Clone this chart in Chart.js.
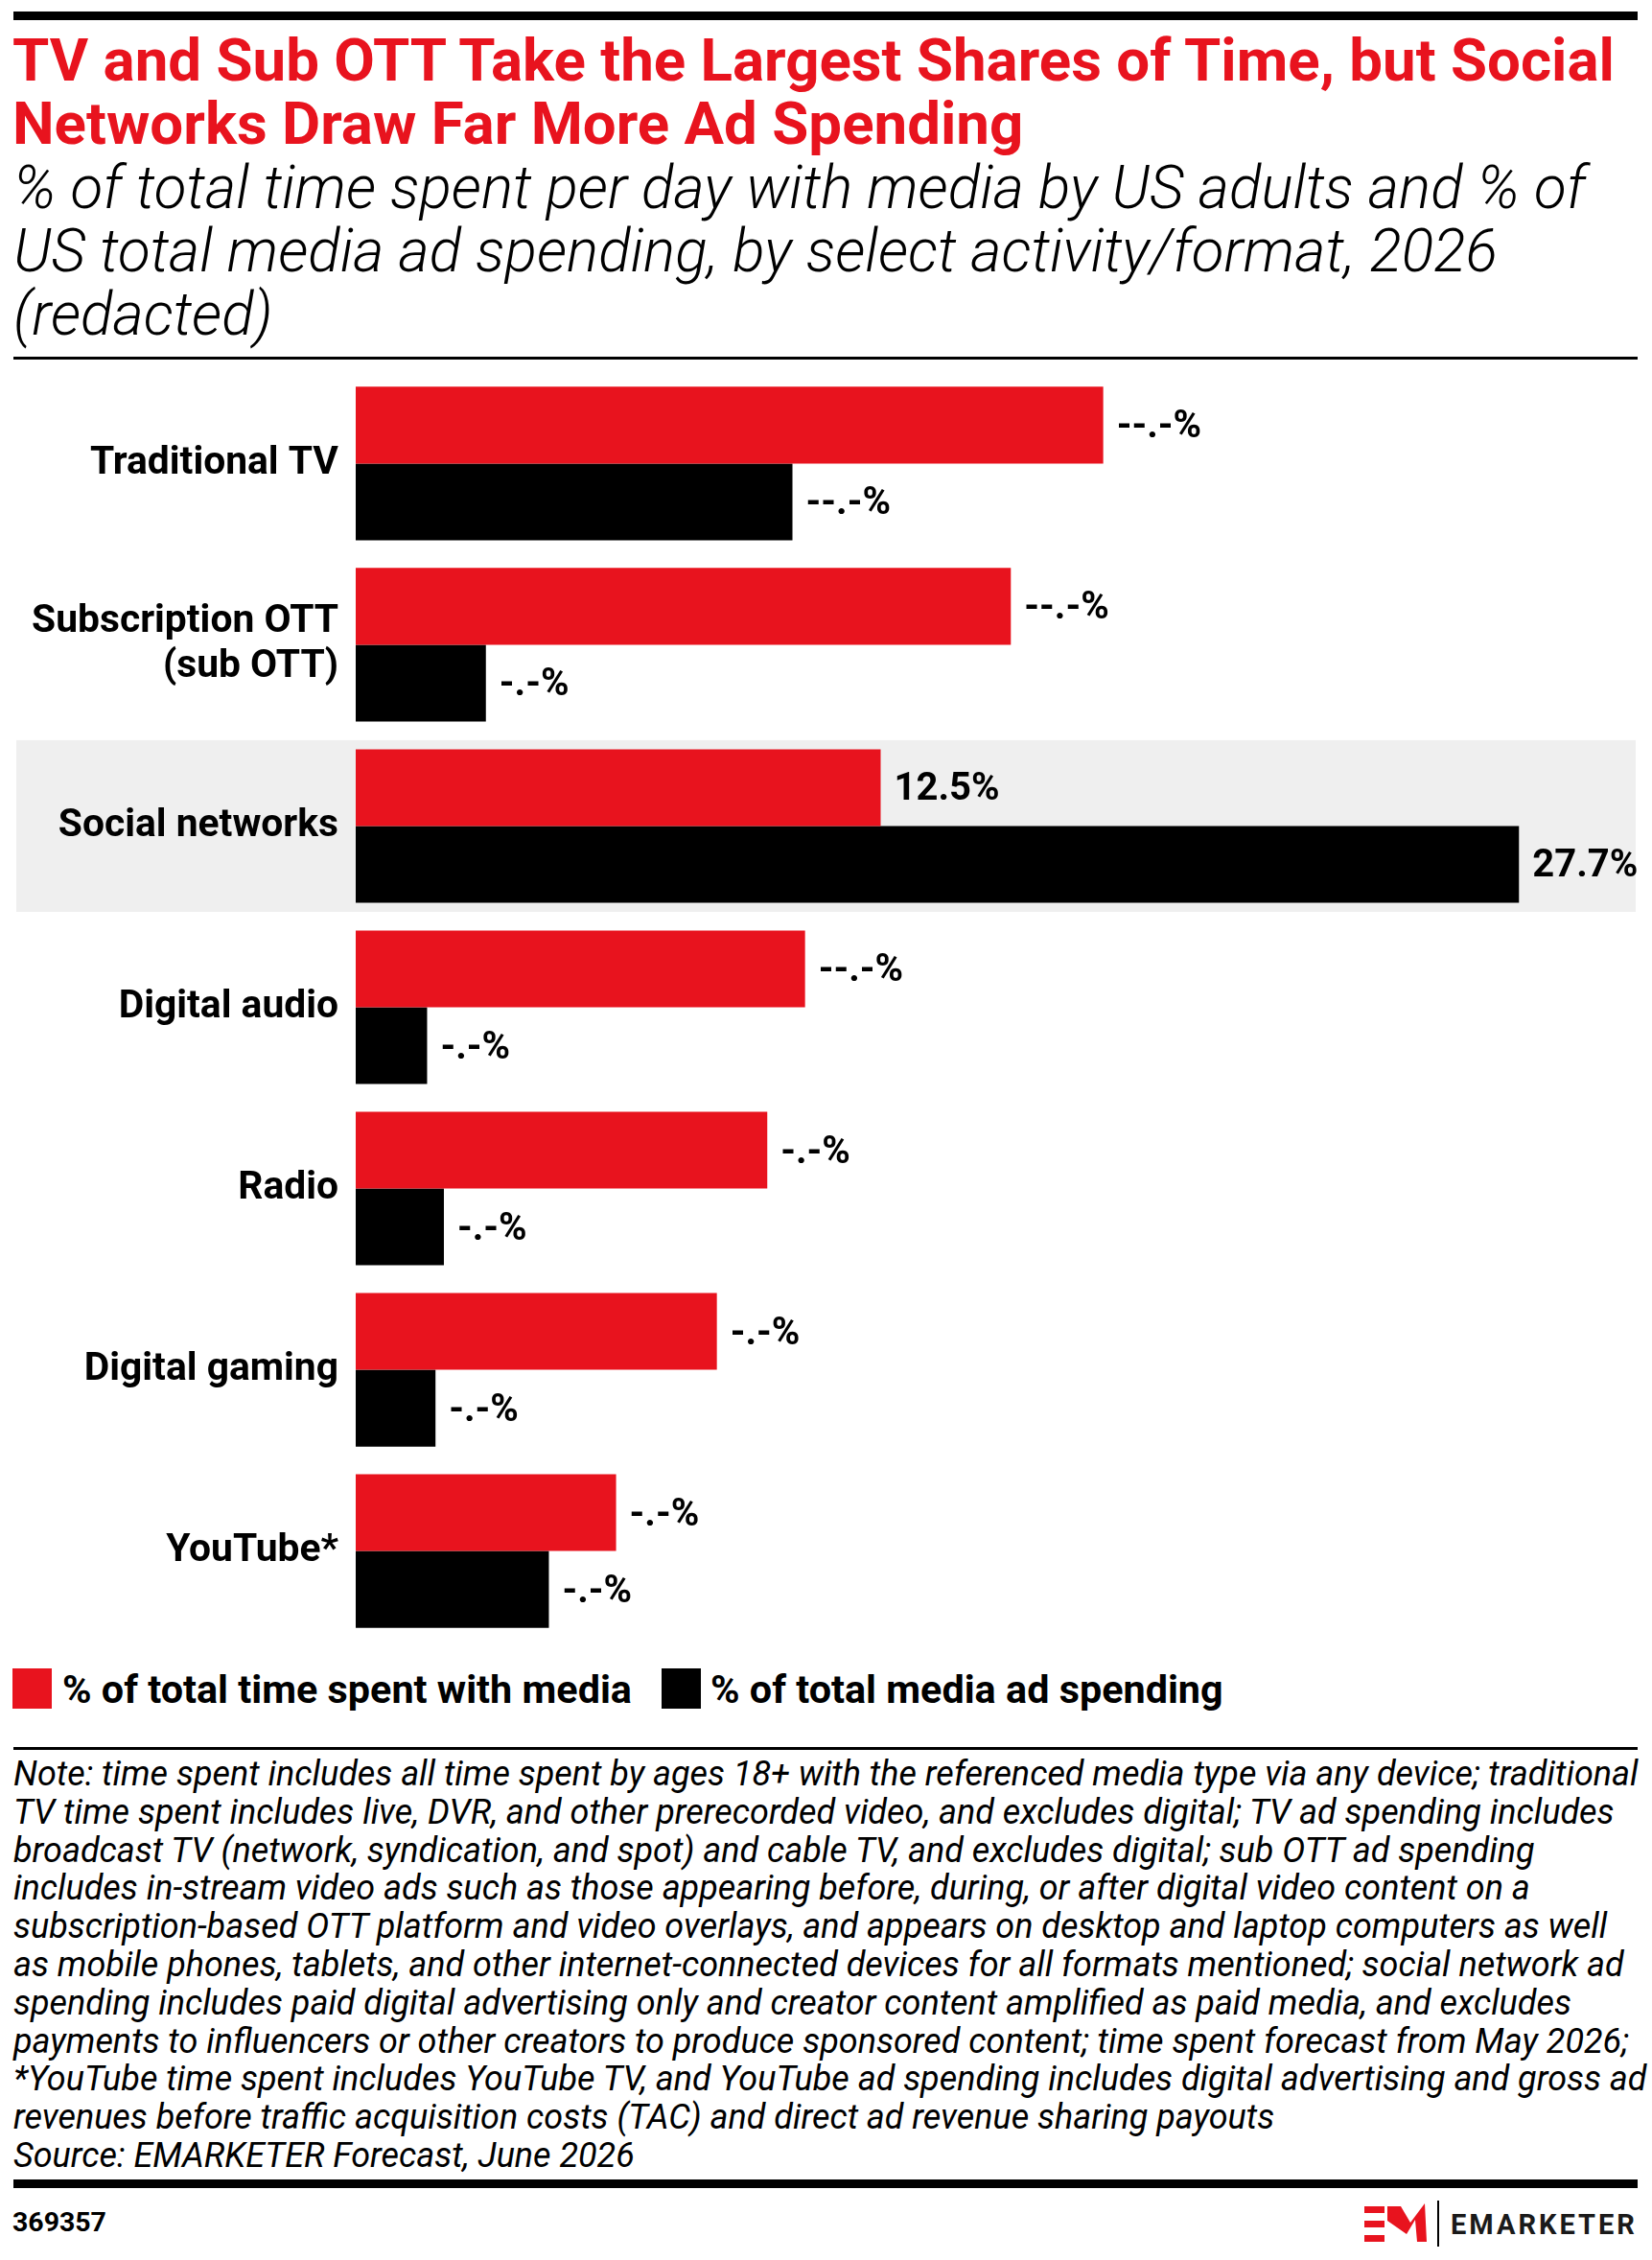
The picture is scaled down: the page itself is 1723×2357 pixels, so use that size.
<!DOCTYPE html>
<html>
<head>
<meta charset="utf-8">
<script src="https://cdn.jsdelivr.net/npm/chart.js@4.4.1/dist/chart.umd.min.js"></script>
<style>
html, body { margin: 0; padding: 0; background: #fff; }
#page { position: relative; width: 1723px; height: 2357px; overflow: hidden; background: #fff; }
#deco { position: absolute; left: 0; top: 0; }
#chartBox { position: absolute; left: 0; top: 370px; width: 1723px; height: 1360px; }
</style>
</head>
<body>
<div id="page">
  <svg id="deco" width="1723" height="2357" xmlns="http://www.w3.org/2000/svg"></svg>
  <div id="chartBox"><canvas id="myChart" width="1723" height="1360"></canvas></div>
</div>
<script>
// chart data
var categories = ['Traditional TV', ['Subscription OTT', '(sub OTT)'], 'Social networks', 'Digital audio', 'Radio', 'Digital gaming', 'YouTube*'];
var timeSpent = [17.8, 15.6, 12.5, 10.7, 9.8, 8.6, 6.2];
var adSpending = [10.4, 3.1, 27.7, 1.7, 2.1, 1.9, 4.6];
var timeLabels = ['--.-%', '--.-%', '12.5%', '--.-%', '-.-%', '-.-%', '-.-%'];
var adLabels = ['--.-%', '-.-%', '27.7%', '-.-%', '-.-%', '-.-%', '-.-%'];
var seriesNames = ['% of total time spent with media', '% of total media ad spending'];
var highlightCategory = 2; // Social networks

var titleLines = ['TV and Sub OTT Take the Largest Shares of Time, but Social', 'Networks Draw Far More Ad Spending'];
var subtitleLines = ['% of total time spent per day with media by US adults and % of', 'US total media ad spending, by select activity/format, 2026', '(redacted)'];
var noteLines = [
    'Note: time spent includes all time spent by ages 18+ with the referenced media type via any device; traditional',
    'TV time spent includes live, DVR, and other prerecorded video, and excludes digital; TV ad spending includes',
    'broadcast TV (network, syndication, and spot) and cable TV, and excludes digital; sub OTT ad spending',
    'includes in-stream video ads such as those appearing before, during, or after digital video content on a',
    'subscription-based OTT platform and video overlays, and appears on desktop and laptop computers as well',
    'as mobile phones, tablets, and other internet-connected devices for all formats mentioned; social network ad',
    'spending includes paid digital advertising only and creator content amplified as paid media, and excludes',
    'payments to influencers or other creators to produce sponsored content; time spent forecast from May 2026;',
    '*YouTube time spent includes YouTube TV, and YouTube ad spending includes digital advertising and gross ad',
    'revenues before traffic acquisition costs (TAC) and direct ad revenue sharing payouts',
    'Source: EMARKETER Forecast, June 2026'
];
var chartId = '369357';

var FONT = 'Roboto';
var RED = '#E8131E';
var BLACK = '#000000';

// where the plot area should sit on the page
var AREA_TOP = 388.5;
var AREA_HEIGHT = 1323;

var svgNS = 'http://www.w3.org/2000/svg';
var deco = document.getElementById('deco');

function addRect(x, y, w, h, fill) {
    var r = document.createElementNS(svgNS, 'rect');
    r.setAttribute('x', x); r.setAttribute('y', y);
    r.setAttribute('width', w); r.setAttribute('height', h);
    r.setAttribute('fill', fill);
    deco.appendChild(r);
    return r;
}

function addText(str, x, y, size, weight, style, fill) {
    var t = document.createElementNS(svgNS, 'text');
    t.setAttribute('x', x); t.setAttribute('y', y);
    t.setAttribute('font-family', FONT);
    t.setAttribute('font-size', size);
    t.setAttribute('font-weight', weight);
    t.setAttribute('font-style', style);
    t.setAttribute('fill', fill);
    t.textContent = str;
    deco.appendChild(t);
    return t;
}

// scale a group of lines so the widest one gets the target width
function fitLines(els, target) {
    var widest = 0;
    els.forEach(function (el) { widest = Math.max(widest, el.getComputedTextLength()); });
    var k = target / widest;
    els.forEach(function (el) {
        el.setAttribute('font-size', parseFloat(el.getAttribute('font-size')) * k);
    });
}

function measure(text, weight, size) {
    var c = document.createElement('canvas').getContext('2d');
    c.font = weight + ' ' + size + 'px ' + FONT;
    return c.measureText(text).width;
}

function drawDecor() {
    addRect(14, 12, 1694, 9, BLACK);

    var t = titleLines.map(function (s, i) { return addText(s, 13, 84 + i * 66, 56, 700, 'normal', RED); });
    fitLines(t, 1671);

    var st = subtitleLines.map(function (s, i) { return addText(s, 14, 217 + i * 66, 54, 300, 'italic', BLACK); });
    fitLines(st, 1640);

    addRect(14, 372, 1694, 3, BLACK);

    // legend
    var boxX = [13, 690];
    var textX = [65, 741];
    var colors = [RED, BLACK];
    var lt = seriesNames.map(function (s, i) {
        addRect(boxX[i], 1740, 41, 42, colors[i]);
        return addText(s, textX[i], 1776, 40, 700, 'normal', BLACK);
    });
    fitLines([lt[0]], 594);
    lt[1].setAttribute('font-size', lt[0].getAttribute('font-size'));

    addRect(14, 1822, 1694, 3, BLACK);

    var nt = noteLines.map(function (s, i) { return addText(s, 14, 1862 + i * 39.8, 34, 400, 'italic', BLACK); });
    fitLines([nt[0]], 1695);
    nt.forEach(function (el) { el.setAttribute('font-size', nt[0].getAttribute('font-size')); });

    addRect(14, 2273, 1694, 9, BLACK);

    var idt = addText(chartId, 13, 2327, 28, 700, 'normal', BLACK);
    fitLines([idt], 98);

    // logo
    addRect(1423, 2301, 21, 7, RED);
    addRect(1423, 2316, 21, 7, RED);
    addRect(1423, 2331, 21, 7, RED);
    var m = document.createElementNS(svgNS, 'polygon');
    m.setAttribute('points', '1447,2301 1461,2301 1471,2318 1486,2298 1488,2338 1478,2338 1476,2315 1467,2330 1447,2316');
    m.setAttribute('fill', RED);
    deco.appendChild(m);
    addRect(1499, 2295, 2, 48, BLACK);
    var lg = addText('EMARKETER', 1513, 2330, 30, 700, 'normal', '#1a1a1a');
    lg.setAttribute('letter-spacing', '3');
    fitLines([lg], 194);
}

function makeConfig(tickSize, valueSize) {
    // grey band behind the highlighted category
    var bandPlugin = {
        id: 'band',
        beforeDraw: function (chart) {
            var y = chart.scales.y;
            var step = y.getPixelForValue(1) - y.getPixelForValue(0);
            var h = step * 179 / 189;
            var ctx = chart.ctx;
            ctx.save();
            ctx.fillStyle = '#EFEFEF';
            ctx.fillRect(17, y.getPixelForValue(highlightCategory) - h / 2, 1689, h);
            ctx.restore();
        }
    };

    // value labels at the end of each bar
    var valuePlugin = {
        id: 'values',
        afterDatasetsDraw: function (chart) {
            var ctx = chart.ctx;
            var texts = [timeLabels, adLabels];
            ctx.save();
            ctx.font = 'bold ' + valueSize + 'px ' + FONT;
            ctx.fillStyle = BLACK;
            ctx.textBaseline = 'middle';
            ctx.textAlign = 'left';
            chart.data.datasets.forEach(function (ds, di) {
                chart.getDatasetMeta(di).data.forEach(function (bar, i) {
                    ctx.fillText(texts[di][i], bar.x + 14, bar.y + 3);
                });
            });
            ctx.restore();
        }
    };

    return {
        type: 'bar',
        data: {
            labels: categories,
            datasets: [{
                label: seriesNames[0],
                data: timeSpent,
                backgroundColor: RED,
                categoryPercentage: 0.847,
                barPercentage: 1
            }, {
                label: seriesNames[1],
                data: adSpending,
                backgroundColor: BLACK,
                categoryPercentage: 0.847,
                barPercentage: 1
            }]
        },
        options: {
            indexAxis: 'y',
            responsive: false,
            maintainAspectRatio: false,
            devicePixelRatio: 1,
            animation: false,
            layout: { padding: { top: 0, bottom: 0, left: 0, right: 38 } },
            plugins: { legend: { display: false }, tooltip: { enabled: false } },
            scales: {
                x: { display: false, min: 0, max: 30 },
                y: {
                    grid: { display: false, drawTicks: false },
                    border: { display: false },
                    ticks: {
                        autoSkip: false,
                        color: BLACK,
                        padding: 18,
                        font: { size: tickSize, weight: 'bold', lineHeight: 1.17 }
                    },
                    afterFit: function (scale) { scale.width = 371; }
                }
            }
        },
        plugins: [bandPlugin, valuePlugin]
    };
}

function showChart() {
    drawDecor();

    var tickSize = 40 * 320 / measure('Subscription OTT', 'bold', 40);
    var valueSize = 40 * 110 / measure('12.5%', 'bold', 40);

    Chart.defaults.font.family = FONT;
    Chart.defaults.color = BLACK;

    var canvas = document.getElementById('myChart');
    var box = document.getElementById('chartBox');

    // first pass: find the space the axis labels reserve above and below the plot
    var probe = new Chart(canvas.getContext('2d'), makeConfig(tickSize, valueSize));
    var above = probe.chartArea.top;
    var below = probe.height - probe.chartArea.bottom;
    probe.destroy();

    var h = Math.round(above + AREA_HEIGHT + below);
    canvas.width = 1723;
    canvas.height = h;
    box.style.height = h + 'px';
    box.style.top = (AREA_TOP - above) + 'px';

    window.myChart = new Chart(canvas.getContext('2d'), makeConfig(tickSize, valueSize));
}

showChart();
</script>
</body>
</html>
